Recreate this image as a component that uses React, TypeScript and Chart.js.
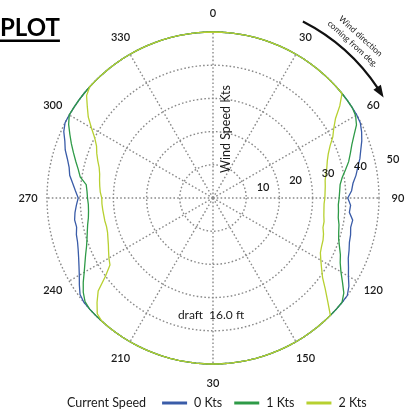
import { useEffect, useRef } from 'react';
import { Chart, registerables } from 'chart.js';

Chart.register(...registerables);

// ---- data ----
const STEP_DEG = 3;
const directionLabels = ['0', '30', '60', '90', '120', '150', '30', '210', '240', '270', '300', '330'];
const speedTicks = [10, 20, 30, 40, 50];
const seriesNames = ['0 Kts', '1 Kts', '2 Kts'];
const seriesColors = ['#3a5ca8', '#2e9a47', '#b7d030'];

// wind speed (kts) per wind direction, one value every 3 degrees from 0
const current0Kts = [
  50, 50, 50, 50, 50, 50, 50, 50, 50, 50,
  50, 50, 50, 50, 50, 50, 50, 50, 50, 50,
  50, 49.8, 49, 48, 46.8, 45.8, 44.6, 43.6, 42.4, 41.8,
  40.6, 41.5, 41.3, 42.6, 42.4, 42.9, 43.2, 43.9, 44.6, 45.8,
  47.1, 48.8, 50, 50, 50, 50, 50, 50, 50, 50,
  50, 50, 50, 50, 50, 50, 50, 50, 50, 50,
  50, 50, 50, 50, 50, 50, 50, 50, 50, 50,
  50, 50, 50, 50, 50, 50, 50, 50, 49.5, 48,
  46.5, 45.3, 44.3, 43.5, 42.9, 42.6, 42, 42.2, 41.8, 41.2,
  40.6, 41.5, 42.5, 43.7, 44.3, 45.4, 46.8, 47.8, 49.2, 50,
  50, 50, 50, 50, 50, 50, 50, 50, 50, 50,
  50, 50, 50, 50, 50, 50, 50, 50, 50, 50,
];
const current1Kts = [
  50, 50, 50, 50, 50, 50, 50, 50, 50, 50,
  50, 50, 50, 50, 50, 50, 50, 50, 50, 50,
  49.6, 48.5, 46.5, 44.8, 43.5, 42.3, 40.8, 39.4, 38.5, 38.2,
  38, 37.8, 38, 38.2, 38.8, 39.2, 39.8, 40.8, 42, 43,
  44.5, 46.5, 48.7, 50, 50, 50, 50, 50, 50, 50,
  50, 50, 50, 50, 50, 50, 50, 50, 50, 50,
  50, 50, 50, 50, 50, 50, 50, 50, 50, 50,
  50, 50, 50, 50, 50, 50, 50, 49.6, 48.3, 46.6,
  44.8, 43.3, 42, 40.8, 39.9, 39.2, 38.6, 38, 37.7, 37.6,
  37.8, 38, 38.4, 40.5, 41.5, 42.8, 44.2, 45.7, 47.2, 48.8,
  50, 50, 50, 50, 50, 50, 50, 50, 50, 50,
  50, 50, 50, 50, 50, 50, 50, 50, 50, 50,
];
const current2Kts = [
  50, 50, 50, 50, 50, 50, 50, 50, 50, 50,
  50, 50, 50, 50, 50, 50, 50, 50, 47.2, 44,
  42, 40.5, 38.6, 37.2, 36.2, 35.5, 34.8, 34.2, 34, 33.8,
  33.7, 33.5, 33.6, 33.8, 34.2, 34.3, 35, 35.5, 35.8, 36.3,
  37.5, 39, 40.8, 43.5, 46.5, 50, 50, 50, 50, 50,
  50, 50, 50, 50, 50, 50, 50, 50, 50, 50,
  50, 50, 50, 50, 50, 50, 50, 50, 50, 50,
  50, 50, 50, 50, 50, 49.3, 47, 44.5, 40, 37,
  36.2, 35.3, 34.5, 33.9, 33.4, 33.2, 33.3, 33.3, 33.4, 33.5,
  33.5, 34, 34.3, 34.6, 34.9, 35.5, 36.5, 37.5, 38.4, 40,
  42.3, 44.8, 46.8, 49, 50, 50, 50, 50, 50, 50,
  50, 50, 50, 50, 50, 50, 50, 50, 50, 50,
];

const seriesData = [current0Kts, current1Kts, current2Kts];

const angleLabels = current0Kts.map((_, i) =>
  (i * STEP_DEG) % 30 === 0 ? directionLabels[(i * STEP_DEG) / 30] : ''
);

const FONT = 'Lato, "Open Sans", sans-serif';

const decorations = {
  id: 'decorations',
  afterDraw(chart: any) {
    const ctx: CanvasRenderingContext2D = chart.ctx;
    const r = chart.scales.r;
    const xc = r.xCenter;
    const yc = r.yCenter;
    ctx.save();

    // direction labels
    ctx.fillStyle = '#1a1a1a';
    ctx.textAlign = 'center';
    ctx.textBaseline = 'middle';
    ctx.font = `600 11px ${FONT}`;
    (chart.data.labels as string[]).forEach((lab, i) => {
      if (!lab) return;
      const p = r.getPointPosition(i, r.drawingArea + 19);
      ctx.fillText(lab, p.x, p.y);
    });

    // speed ring labels (at ~78 deg)
    const tickIdx = 26;
    speedTicks.forEach((v) => {
      const p = r.getPointPosition(tickIdx, r.getDistanceFromCenterForValue(v) + 18);
      ctx.fillText(String(v), p.x, p.y);
    });

    // axis title
    ctx.font = `12.5px ${FONT}`;
    ctx.save();
    ctx.translate(xc + 13, yc - 69);
    ctx.rotate(-Math.PI / 2);
    ctx.fillText('Wind Speed Kts', 0, 0);
    ctx.restore();

    // draft note
    ctx.font = `12px ${FONT}`;
    ctx.fillText('draft  16.0 ft', xc - 2, yc + 117);

    // wind direction arrow
    const R = 198;
    const toRad = (d: number) => ((d - 90) * Math.PI) / 180;
    ctx.strokeStyle = '#111';
    ctx.lineWidth = 2.2;
    ctx.beginPath();
    ctx.arc(xc, yc, R, toRad(27), toRad(56.5));
    ctx.stroke();
    const pt = (deg: number, rad: number) => ({
      x: xc + rad * Math.cos(toRad(deg)),
      y: yc + rad * Math.sin(toRad(deg)),
    });
    const tip = pt(59.5, R);
    const b1 = pt(56, R - 4.5);
    const b2 = pt(56, R + 4.5);
    ctx.fillStyle = '#111';
    ctx.beginPath();
    ctx.moveTo(tip.x, tip.y);
    ctx.lineTo(b1.x, b1.y);
    ctx.lineTo(b2.x, b2.y);
    ctx.closePath();
    ctx.fill();

    ctx.font = `8.5px ${FONT}`;
    ctx.fillStyle = '#222';
    const t1 = pt(42.4, 219);
    ctx.save();
    ctx.translate(t1.x, t1.y);
    ctx.rotate((42.4 * Math.PI) / 180);
    ctx.fillText('Wind direction', 0, 0);
    ctx.restore();
    const t2 = pt(42.2, 208);
    ctx.save();
    ctx.translate(t2.x, t2.y);
    ctx.rotate((42.2 * Math.PI) / 180);
    ctx.fillText('coming from deg.', 0, 0);
    ctx.restore();

    // title fragment
    ctx.font = `bold 24px ${FONT}`;
    ctx.textAlign = 'left';
    ctx.textBaseline = 'alphabetic';
    ctx.fillStyle = '#000';
    ctx.fillText('PLOT', 0, 36);
    const tw = ctx.measureText('PLOT').width;
    ctx.fillRect(0, 39.5, tw, 2.5);

    // legend
    const ly = 403;
    ctx.font = `12.5px ${FONT}`;
    ctx.textBaseline = 'middle';
    ctx.fillStyle = '#1a1a1a';
    let x = 67;
    ctx.fillText('Current Speed', x, ly);
    x += ctx.measureText('Current Speed').width + 16;
    chart.data.datasets.forEach((ds: any) => {
      ctx.strokeStyle = ds.borderColor;
      ctx.lineWidth = 3;
      ctx.beginPath();
      ctx.moveTo(x, ly);
      ctx.lineTo(x + 25, ly);
      ctx.stroke();
      x += 32;
      ctx.fillStyle = '#1a1a1a';
      ctx.fillText(ds.label, x, ly);
      x += ctx.measureText(ds.label).width + 12;
    });

    ctx.restore();
  },
};

export default function App() {
  const ref = useRef<HTMLCanvasElement>(null);

  useEffect(() => {
    const canvas = ref.current!;
    const gridColor = '#8a8a8a';
    const chart = new Chart(canvas, {
      type: 'radar',
      data: {
        labels: angleLabels,
        datasets: seriesData.map((d, i) => ({
          label: seriesNames[i],
          data: d,
          borderColor: seriesColors[i],
          backgroundColor: seriesColors[i],
          borderWidth: 1.3,
          pointRadius: 0,
          fill: false,
          tension: 0,
          order: 2 - i,
        })),
      },
      options: {
        animation: false,
        responsive: false,
        layout: { padding: { left: 47, right: 27, top: 32, bottom: 46 } },
        plugins: { legend: { display: false }, tooltip: { enabled: false } },
        scales: {
          r: {
            min: 0,
            max: 50,
            ticks: { display: false, stepSize: 10 },
            pointLabels: { display: false },
            grid: { circular: true, color: gridColor, lineWidth: 1.4 },
            border: { dash: [1.6, 2.2] },
            angleLines: {
              color: gridColor,
              lineWidth: (c: any) => ((c.index * STEP_DEG) % 30 === 0 ? 1.4 : 0),
              borderDash: [1.6, 2.2],
            },
          },
        },
      },
      plugins: [decorations],
    });
    return () => chart.destroy();
  }, []);

  return (
    <div style={{ position: 'fixed', left: 0, top: 0, width: 406, height: 410, background: '#fff' }}>
      <canvas ref={ref} width={406} height={410} style={{ width: 406, height: 410 }} />
    </div>
  );
}
